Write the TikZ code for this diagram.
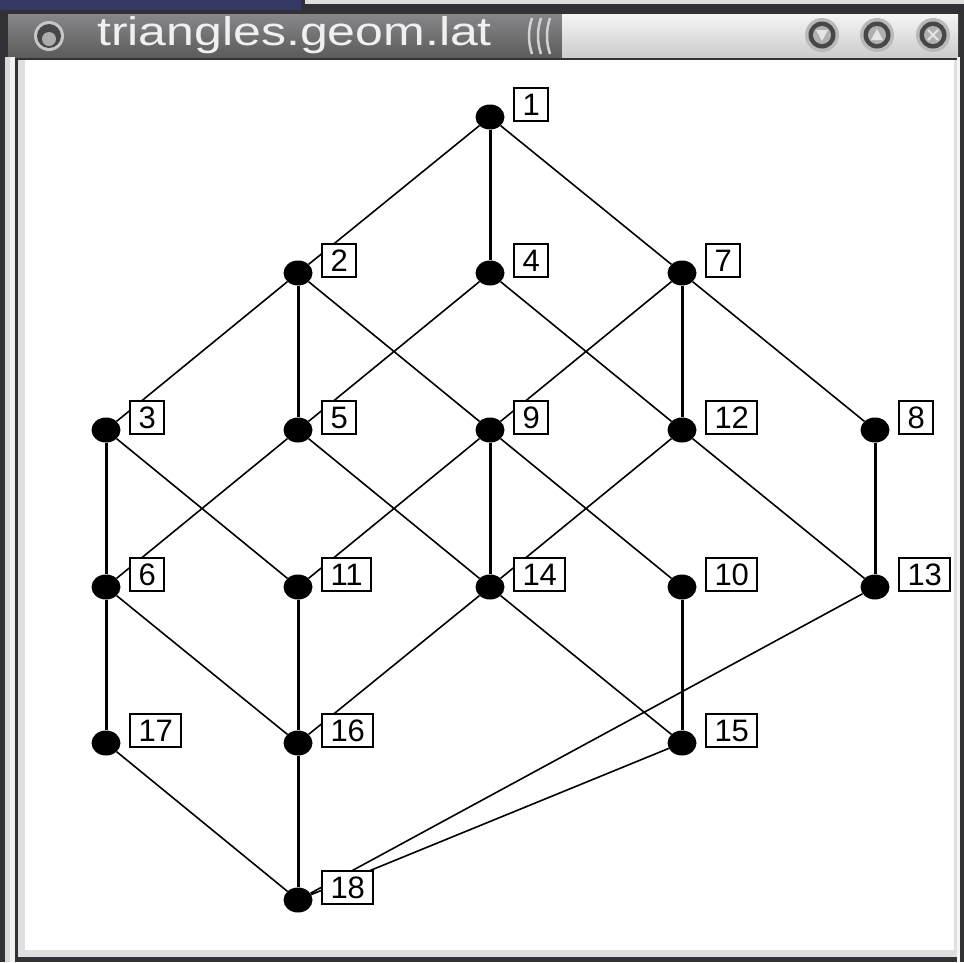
\documentclass[tikz,border=0pt]{standalone}
\usepackage{fontspec}
\setmainfont{Liberation Sans}
\usetikzlibrary{shapes.geometric}
\definecolor{navy}{RGB}{52,58,100}
\definecolor{frame}{RGB}{50,50,54}
\definecolor{titletop}{RGB}{135,135,138}
\begin{document}
\begin{tikzpicture}[x=1pt,y=-1pt,
  vtx/.style={ellipse, fill=black, minimum width=29pt, minimum height=25pt, inner sep=0pt},
  lbl/.style={draw=black, line width=2pt, fill=white, font=\fontsize{31}{31}\selectfont,
    inner xsep=8.5pt, inner ysep=0pt, minimum height=33pt, anchor=west},
  thinedge/.style={line width=1.6pt},
  thickedge/.style={line width=3pt},
  btn/.style={fill=black!72}
]
\useasboundingbox (0,0) rectangle (964,962);
% window frame
\fill[frame] (0,0) rectangle (964,962);
\fill[navy] (0,0) rectangle (301,10);
\fill[gray!25] (305,0) rectangle (964,4);
% title bar
\shade[top color=titletop, bottom color=black!64] (8,14) rectangle (562,57);
\shade[top color=gray!8, bottom color=gray!40] (562,14) rectangle (958,57);
\foreach \sx in {532,541,550}{
  \draw[gray!35, line width=2.5pt] (\sx,18) .. controls (\sx-4,30) and (\sx-4,42) .. (\sx,54);
}
\node[anchor=base west, text=gray!12, font=\fontsize{40}{40}\selectfont, inner sep=0pt] (title) at (97,45) {\scalebox{1.25}[1]{triangles.geom.lat}};
% title buttons
\fill[gray!45] (49,36) circle (15);
\fill[btn] (49,36) circle (12);
\fill[gray!65] (49,39) circle (7);
\foreach \bx in {822,877,933}{
  \fill[gray!55] (\bx,35) circle (17);
  \fill[btn] (\bx,35) circle (13.5);
  \fill[gray!62] (\bx,35) circle (9);
}
\fill[gray!20] (816,30) -- (828,30) -- (822,41) -- cycle;
\fill[gray!20] (871,40) -- (883,40) -- (877,29) -- cycle;
\draw[gray!20, line width=2pt] (928,30) -- (938,40) (938,30) -- (928,40);
% left and lower frame lines
\fill[gray!30] (5,57) rectangle (10,962);
\fill[gray!10] (10,57) rectangle (15,962);
\fill[gray!25] (18,60) rectangle (958,957);
\fill[white] (25,60) rectangle (954,950);
\fill[gray!8] (957,57) rectangle (960,962);
% vertices
\node[vtx] (v1) at (490,117) {};
\node[vtx] (v2) at (298,273) {};
\node[vtx] (v4) at (490,273) {};
\node[vtx] (v7) at (682,273) {};
\node[vtx] (v3) at (106,430) {};
\node[vtx] (v5) at (298,430) {};
\node[vtx] (v9) at (490,430) {};
\node[vtx] (v12) at (682,430) {};
\node[vtx] (v8) at (875,430) {};
\node[vtx] (v6) at (106,587) {};
\node[vtx] (v11) at (298,587) {};
\node[vtx] (v14) at (490,587) {};
\node[vtx] (v10) at (682,587) {};
\node[vtx] (v13) at (875,587) {};
\node[vtx] (v17) at (106,743) {};
\node[vtx] (v16) at (298,743) {};
\node[vtx] (v15) at (682,743) {};
\node[vtx] (v18) at (298,900) {};
% edges
\draw[thickedge] (v1) -- (v4) (v2) -- (v5) (v7) -- (v12) (v3) -- (v6) (v9) -- (v14)
  (v8) -- (v13) (v6) -- (v17) (v11) -- (v16) (v10) -- (v15) (v16) -- (v18);
\draw[thinedge] (v1) -- (v2) (v1) -- (v7)
  (v2) -- (v3) (v2) -- (v9)
  (v4) -- (v5) (v4) -- (v12)
  (v7) -- (v9) (v7) -- (v8)
  (v3) -- (v11) (v5) -- (v6) (v5) -- (v14)
  (v9) -- (v11) (v9) -- (v10)
  (v12) -- (v14) (v12) -- (v13)
  (v6) -- (v16) (v14) -- (v16) (v14) -- (v15)
  (v17) -- (v18) (v13) -- (v18) (v15) -- (v18);
% labels
\foreach \n in {1,2,3,4,5,6,7,8,9,10,11,12,13,14,15,16,17,18}{
  \node[lbl] (l\n) at ([shift={(23,-12.5)}]v\n.center) {\n};
}
\end{tikzpicture}
\end{document}
